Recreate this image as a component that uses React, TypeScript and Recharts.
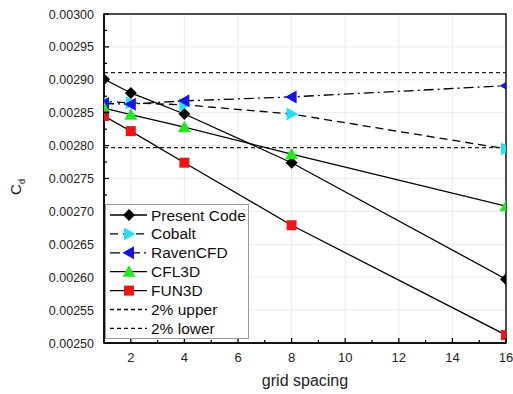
import { LineChart, Line, XAxis, YAxis, CartesianGrid, ReferenceLine, Legend, usePlotArea } from "recharts";

const GRID_SPACING = [1, 2, 4, 8, 16];
const PRESENT_CODE = [0.002901, 0.00288, 0.002848, 0.002774, 0.002597];
const COBALT = [0.002867, 0.002865, 0.002862, 0.002848, 0.002795];
const RAVEN_CFD = [0.002864, 0.002863, 0.002868, 0.002874, 0.002891];
const CFL3D = [0.002857, 0.002847, 0.002828, 0.002787, 0.002708];
const FUN3D = [0.002845, 0.002822, 0.002774, 0.002679, 0.002512];
const LIMIT_UPPER = 0.002911;
const LIMIT_LOWER = 0.002797;

const X_DOMAIN = [1, 16];
const Y_DOMAIN = [0.0025, 0.003];
const X_MAJOR = [2, 4, 6, 8, 10, 12, 14, 16];
const X_MINOR = [3, 5, 7, 9, 11, 13, 15];
const Y_MAJOR = [0.0025, 0.00255, 0.0026, 0.00265, 0.0027, 0.00275, 0.0028, 0.00285, 0.0029, 0.00295, 0.003];
const Y_MINOR = [0.002525, 0.002575, 0.002625, 0.002675, 0.002725, 0.002775, 0.002825, 0.002875, 0.002925, 0.002975];

const FONT = "'Liberation Sans', Arial, sans-serif";
const W = 505;
const H = 386;

const data = GRID_SPACING.map((x, i) => ({
  x,
  present: PRESENT_CODE[i],
  cobalt: COBALT[i],
  raven: RAVEN_CFD[i],
  cfl3d: CFL3D[i],
  fun3d: FUN3D[i],
}));

type Shape = "diamond" | "right" | "left" | "up" | "square";

function marker(shape: Shape, cx: number, cy: number, fill: string, key?: any) {
  const r = 6;
  let pts = "";
  if (shape === "diamond") pts = `${cx},${cy - r} ${cx + r},${cy} ${cx},${cy + r} ${cx - r},${cy}`;
  if (shape === "up") pts = `${cx},${cy - r - 0.5} ${cx + r + 0.5},${cy + r - 1} ${cx - r - 0.5},${cy + r - 1}`;
  if (shape === "right") pts = `${cx + r + 0.5},${cy} ${cx - r + 1},${cy - r - 0.5} ${cx - r + 1},${cy + r + 0.5}`;
  if (shape === "left") pts = `${cx - r - 0.5},${cy} ${cx + r - 1},${cy - r - 0.5} ${cx + r - 1},${cy + r + 0.5}`;
  if (shape === "square")
    return <rect key={key} x={cx - 5} y={cy - 5} width={10} height={10} fill={fill} />;
  return <polygon key={key} points={pts} fill={fill} />;
}

const SERIES = [
  { key: "present", name: "Present Code", shape: "diamond" as Shape, color: "#000000", dash: undefined },
  { key: "cobalt", name: "Cobalt", shape: "right" as Shape, color: "#22e2f2", dash: "8 5" },
  { key: "raven", name: "RavenCFD", shape: "left" as Shape, color: "#1414e6", dash: "10 4 2 4" },
  { key: "cfl3d", name: "CFL3D", shape: "up" as Shape, color: "#22e822", dash: undefined },
  { key: "fun3d", name: "FUN3D", shape: "square" as Shape, color: "#f01414", dash: undefined },
];

const LIMITS = [
  { name: "2% upper", dash: "4 3" },
  { name: "2% lower", dash: "4 3" },
];

// clip path for the markers (the ones on the frame get cut in half) + the box frame
function PlotClip() {
  const area = usePlotArea();
  if (!area) return null;
  return (
    <defs>
      <clipPath id="plot-clip">
        <rect x={area.x} y={area.y} width={area.width} height={area.height} />
      </clipPath>
    </defs>
  );
}

function PlotFrame() {
  const area = usePlotArea();
  if (!area) return null;
  return (
    <rect x={area.x} y={area.y} width={area.width} height={area.height} fill="none" stroke="#222" strokeWidth={1.6} />
  );
}

function XTick(props: any) {
  const { x, y, payload } = props;
  const major = X_MAJOR.includes(payload.value);
  return (
    <g>
      <line x1={x} y1={y} x2={x} y2={y - (major ? 5 : 3)} stroke="#000" strokeWidth={1.3} />
      {major && (
        <text x={x} y={y + 19} textAnchor="middle" fontSize={13} fontFamily={FONT} fill="#222">
          {payload.value}
        </text>
      )}
    </g>
  );
}

function YTick(props: any) {
  const { x, y, payload } = props;
  const major = Y_MAJOR.some((v) => Math.abs(v - payload.value) < 1e-9);
  return (
    <g>
      <line x1={x} y1={y} x2={x + (major ? 5 : 3)} y2={y} stroke="#000" strokeWidth={1.3} />
      {major && (
        <text x={x - 10} y={y + 4.5} textAnchor="end" fontSize={12.5} fontFamily={FONT} fill="#222">
          {payload.value.toFixed(5)}
        </text>
      )}
    </g>
  );
}

function LegendBox() {
  const rows = [
    ...SERIES.map((s) => ({ name: s.name, dash: s.dash, shape: s.shape, color: s.color })),
    ...LIMITS.map((l) => ({ name: l.name, dash: l.dash, shape: null as Shape | null, color: "" })),
  ];
  return (
    <div style={{ border: "1px solid #999", background: "#fff", width: 142, height: 133 }}>
      <svg width={142} height={133} style={{ overflow: "visible", display: "block" }}>
        {rows.map((r, i) => {
          const cy = 10 + i * 18.9;
          return (
            <g key={r.name}>
              <line x1={4} y1={cy} x2={41} y2={cy} stroke="#000" strokeWidth={1.3} strokeDasharray={r.dash} />
              {r.shape && marker(r.shape, 23, cy, r.color)}
              <text x={45} y={cy + 5.5} fontSize={15.5} fontFamily={FONT} fill="#111">
                {r.name}
              </text>
            </g>
          );
        })}
      </svg>
    </div>
  );
}

export default function App() {
  return (
    <div style={{ position: "absolute", left: 8, top: 8, width: W, height: H }}>
      <LineChart width={W} height={H} data={data} margin={{ top: 6, right: 7, bottom: 0, left: 0 }}>
        <PlotClip />
        <CartesianGrid stroke="#ececec" strokeWidth={1} horizontalValues={Y_MAJOR} verticalValues={X_MAJOR} />
        <XAxis
          dataKey="x"
          type="number"
          domain={X_DOMAIN}
          allowDataOverflow
          ticks={[...X_MAJOR, ...X_MINOR].sort((a, b) => a - b)}
          interval={0}
          tickSize={0}
          tickMargin={0}
          tick={<XTick />}
          height={51}
          axisLine={{ stroke: "#000", strokeWidth: 1.5 }}
          tickLine={false}
          label={(p: any) => (
            <text
              x={p.viewBox.x + p.viewBox.width / 2}
              y={p.viewBox.y + 43}
              textAnchor="middle"
              fontSize={16}
              fontFamily={FONT}
              fill="#222"
            >
              grid spacing
            </text>
          )}
        />
        <YAxis
          type="number"
          domain={Y_DOMAIN}
          allowDataOverflow
          ticks={[...Y_MAJOR, ...Y_MINOR].sort((a, b) => a - b)}
          interval={0}
          tickSize={0}
          tickMargin={0}
          tick={<YTick />}
          width={96}
          axisLine={{ stroke: "#000", strokeWidth: 1.5 }}
          tickLine={false}
          label={() => (
            <text transform="translate(13,179) rotate(-90)" textAnchor="middle" fontSize={15} fontFamily={FONT} fill="#222">
              C<tspan fontSize={9} dy={4}>d</tspan>
            </text>
          )}
        />
        <ReferenceLine y={LIMIT_UPPER} stroke="#222" strokeWidth={1.2} strokeDasharray="4 3" />
        <ReferenceLine y={LIMIT_LOWER} stroke="#222" strokeWidth={1.2} strokeDasharray="4 3" />
        {SERIES.map((s) => (
          <Line
            key={s.key}
            dataKey={s.key}
            name={s.name}
            stroke="#000"
            strokeWidth={1.3}
            strokeDasharray={s.dash}
            isAnimationActive={false}
            dot={(p: any) => (
              <g key={`${s.key}-${p.index}`} clipPath="url(#plot-clip)">
                {marker(s.shape, p.cx, p.cy, s.color)}
              </g>
            )}
            activeDot={false}
          />
        ))}
        <PlotFrame />
        <Legend
          layout="vertical"
          align="center"
          verticalAlign="middle"
          wrapperStyle={{ left: 97, top: 196, width: 144 }}
          content={() => <LegendBox />}
        />
      </LineChart>
    </div>
  );
}
